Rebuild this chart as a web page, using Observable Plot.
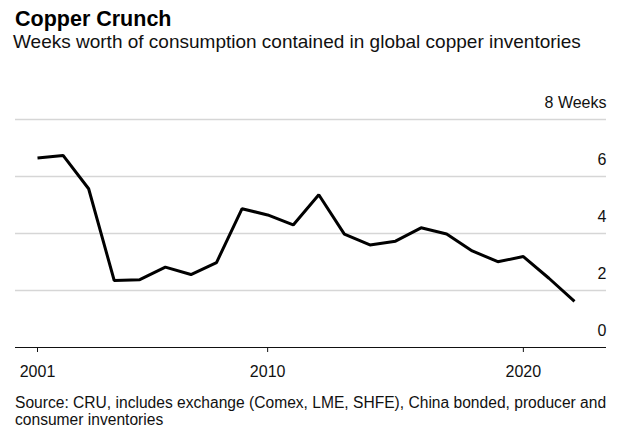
<!DOCTYPE html>
<html>
<head>
<meta charset="utf-8">
<script src="https://cdn.jsdelivr.net/npm/d3@7"></script>
<script src="https://cdn.jsdelivr.net/npm/@observablehq/plot@0.6"></script>
<style>
  html, body { margin: 0; padding: 0; background: #fff; }
  body { width: 640px; height: 437px; overflow: hidden; font-family: "Liberation Sans", Arial, sans-serif; color: #000; }
  .title { padding: 7px 0 0 15px; font-size: 21.5px; font-weight: bold; line-height: 24px; }
  .subtitle { padding-left: 13px; font-size: 19px; line-height: 21px; color: #111; }
  .caption { padding-left: 15px; font-size: 15.6px; line-height: 17px; color: #111; white-space: nowrap; }
  #chart svg { display: block; }
</style>
</head>
<body>
<div class="title">Copper Crunch</div>
<div class="subtitle">Weeks worth of consumption contained in global copper inventories</div>
<div id="chart"></div>
<div class="caption">Source: CRU, includes exchange (Comex, LME, SHFE), China bonded, producer and<br>consumer inventories</div>
<script>
const years = [2001,2002,2003,2004,2005,2006,2007,2008,2009,2010,2011,2012,2013,2014,2015,2016,2017,2018,2019,2020,2021,2022];
const weeks = [6.65,6.74,5.57,2.35,2.38,2.82,2.56,2.98,4.87,4.65,4.30,5.36,3.98,3.60,3.73,4.20,3.98,3.39,3.01,3.19,2.43,1.62];
const xTicks = [2001, 2010, 2020];
const yTicks = [0, 2, 4, 6, 8];
const yUnit = "Weeks";

const data = years.map((year, i) => ({year, value: weeks[i]}));

const chart = Plot.plot({
  width: 640,
  height: 342,
  marginTop: 67,
  marginBottom: 47,
  marginLeft: 15,
  marginRight: 34,
  style: {fontFamily: "'Liberation Sans', Arial, sans-serif", fontSize: "16px", color: "#111", background: "#fff"},
  x: {type: "linear", domain: [2001, 2022], insetLeft: 22, insetRight: 32},
  y: {domain: [0, 8]},
  marks: [
    Plot.ruleY(yTicks.filter(d => d > 0), {stroke: "#d6d6d6", strokeWidth: 1.3}),
    Plot.axisY({
      anchor: "right", ticks: yTicks, tickSize: 0, tickPadding: 0,
      textAnchor: "end", dx: 0, dy: -17, fontSize: 16,
      tickFormat: d => d === 8 ? `${d} ${yUnit}` : String(d),
      label: null
    }),
    Plot.line(data, {x: "year", y: "value", stroke: "#000", strokeWidth: 3, strokeLinejoin: "miter", strokeLinecap: "butt"}),
    Plot.ruleY([0], {stroke: "#111", strokeWidth: 1.2}),
    Plot.axisX({
      anchor: "bottom", ticks: xTicks, tickSize: 5, tickPadding: 13,
      tickFormat: d => String(d), label: null, fontSize: 16, stroke: "#111"
    })
  ]
});
document.getElementById("chart").appendChild(chart);
</script>
</body>
</html>
